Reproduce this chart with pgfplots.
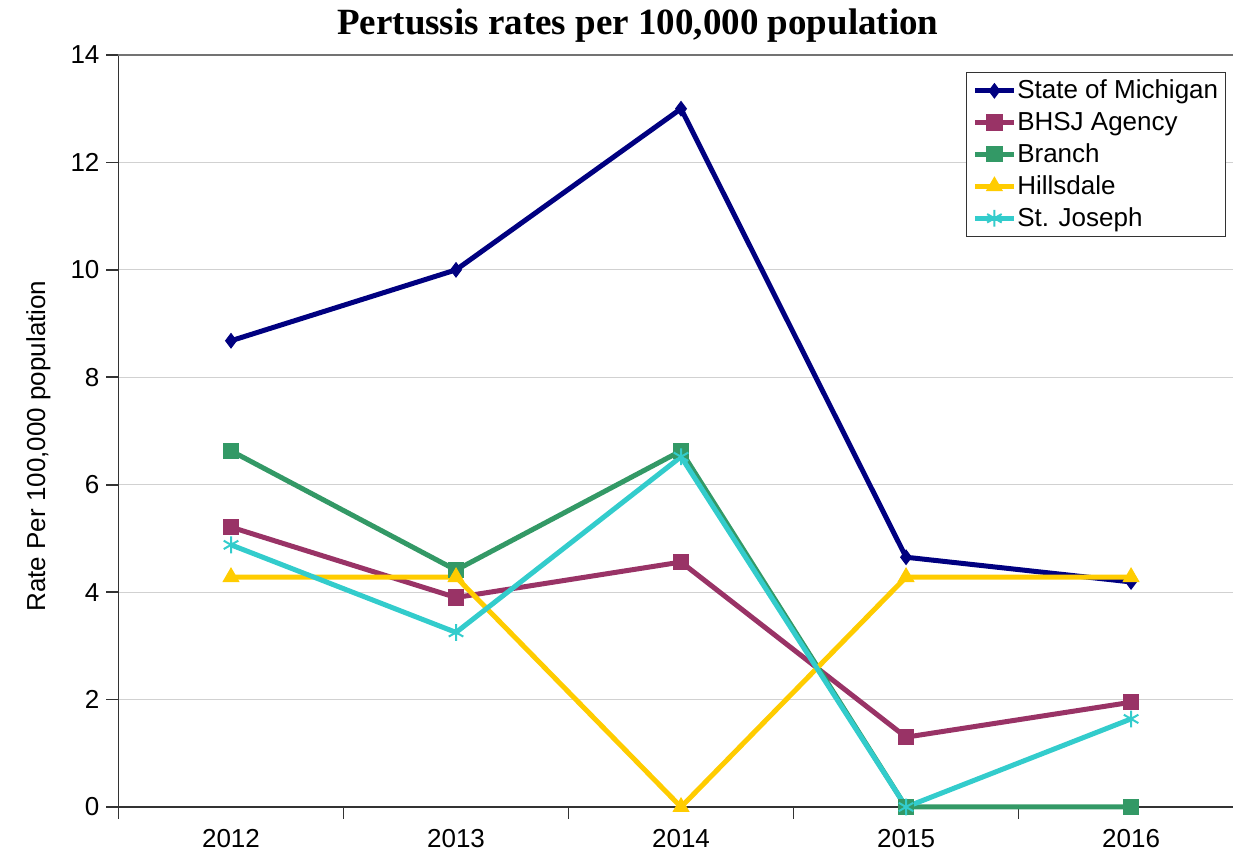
\documentclass[border=0pt]{standalone}
\usepackage{pgfplots}
\pgfplotsset{compat=1.18}
\usepackage{fontspec}
\setmainfont{Liberation Sans}
\newfontfamily\titlefont{Liberation Serif}

\definecolor{michigan}{HTML}{000080}
\definecolor{bhsj}{HTML}{993366}
\definecolor{branch}{HTML}{339966}
\definecolor{hillsdale}{HTML}{FFCC00}
\definecolor{stjoseph}{HTML}{33CCCC}

\begin{document}
\begin{tikzpicture}
\begin{axis}[
  at={(0,0)}, anchor=south west,
  scale only axis,
  width=557.25pt, height=376pt,
  xmin=-0.5, xmax=4.453,
  ymin=0, ymax=14,
  clip=false,
  axis x line=bottom, axis y line=left,
  axis line style={-, black!80, line width=0.8pt},
  xtick={0,1,2,3,4},
  xticklabels={2012,2013,2014,2015,2016},
  major x tick style={draw=none},
  minor xtick={-0.5,0.5,1.5,2.5,3.5},
  minor x tick style={black!80, line width=0.8pt},
  minor tick length=6pt,
  ytick={0,2,...,12},
  major tick length=6pt,
  tick align=outside,
  y tick style={black!80, line width=0.8pt},
  ymajorgrids,
  grid style={black!18, line width=0.6pt},
  extra y ticks={14},
  extra y tick style={grid style={black!55, line width=1pt}},
  tick label style={font=\fontsize{13}{15}\selectfont},
  /pgf/number format/assume math mode=true,
  xticklabel style={yshift=-1.5pt},
  ylabel={Rate Per 100,000 population},
  ylabel style={font=\fontsize{13}{15}\selectfont, at={(axis description cs:-0.0718,0.48)}, anchor=center},
  title={\titlefont\bfseries Pertussis rates per 100,000 population},
  title style={font=\fontsize{18.5}{21}\selectfont, at={(axis description cs:0.466,1)}, anchor=base, yshift=4pt},
  legend style={at={(axis description cs:0.7604,0.977)}, anchor=north west,
    draw=black!80, line width=0.6pt, font=\fontsize{13}{16}\selectfont,
    legend cell align=left, row sep=1.1pt, inner xsep=3pt, inner ysep=1.5pt,
    nodes={inner xsep=0.5pt}},
  legend image code/.code={
    \draw[mark repeat=2, mark phase=2] plot coordinates {(0cm,0cm) (0.34cm,0cm) (0.68cm,0cm)};},
  every axis plot/.append style={line width=2.5pt},
]
\addplot[michigan, mark=diamond*, mark size=3.6pt, mark options={solid, line width=0.5pt}]
  coordinates {(0,8.68) (1,10.0) (2,13.0) (3,4.65) (4,4.19)};
\addlegendentry{State of Michigan}
\addplot[bhsj, mark=square*, mark size=3.8pt, mark options={solid, line width=0.5pt}]
  coordinates {(0,5.21) (1,3.90) (2,4.56) (3,1.30) (4,1.95)};
\addlegendentry{BHSJ Agency}
\addplot[branch, mark=square*, mark size=3.8pt, mark options={solid, line width=0.5pt}]
  coordinates {(0,6.63) (1,4.41) (2,6.63) (3,0) (4,0)};
\addlegendentry{Branch}
\addplot[hillsdale, mark=triangle*, mark size=4.5pt, mark options={solid, line width=0.5pt}]
  coordinates {(0,4.28) (1,4.28) (2,0) (3,4.28) (4,4.28)};
\addlegendentry{Hillsdale}
\addplot[stjoseph, mark=asterisk, mark size=4.2pt, mark options={solid, line width=1pt}]
  coordinates {(0,4.88) (1,3.25) (2,6.52) (3,0) (4,1.64)};
\addlegendentry{St. Joseph}
\end{axis}
\pgfresetboundingbox
\path (-59.25pt,-22pt) rectangle (557.25pt,403.5pt);
\end{tikzpicture}
\end{document}
